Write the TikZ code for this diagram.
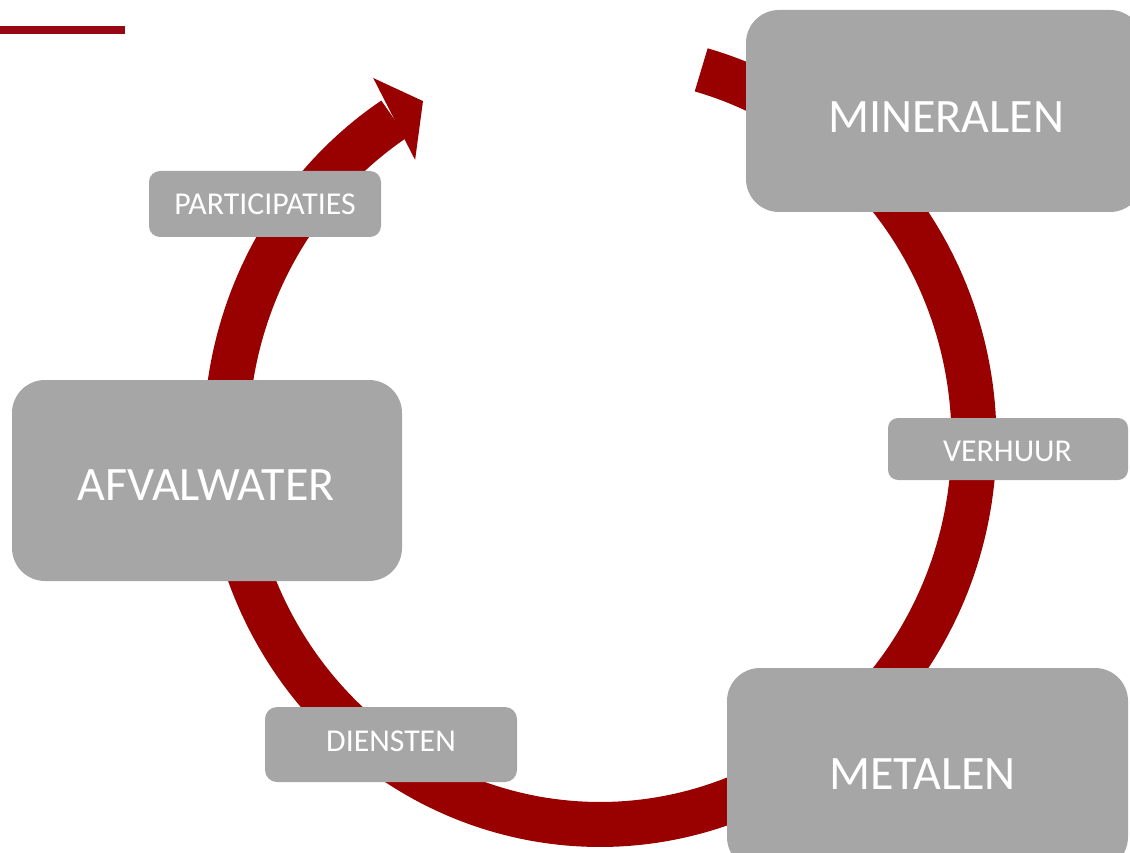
\documentclass[tikz,border=0pt]{standalone}
\usepackage{fontspec}
\setmainfont{Carlito}
\definecolor{cycred}{HTML}{990000}
\definecolor{barred}{RGB}{150,8,20}
\definecolor{boxgray}{HTML}{A6A6A6}
\tikzset{
  bigbox/.style={fill=boxgray, draw=none, rounded corners=33pt, inner sep=0pt, outer sep=0pt},
  smallbox/.style={fill=boxgray, draw=none, rounded corners=11pt, inner sep=0pt, outer sep=0pt},
  bigtxt/.style={text=white, inner sep=0pt, font=\fontsize{48}{52}\selectfont},
  smalltxt/.style={text=white, inner sep=0pt, font=\fontsize{31.8}{35}\selectfont},
  cycle band/.style={draw=cycred, line width=45pt, line cap=butt, line join=round},
}
\begin{document}
\begin{tikzpicture}[x=1pt,y=-1pt]
\useasboundingbox (0,0) rectangle (1130,853);
\clip (0,0) rectangle (1130,853);
% top-left bar
\coordinate (barL) at (0,30);
\coordinate (barR) at (125,30);
\draw[barred, line width=8pt] (barL) -- (barR);
% cycle band (elliptical arc)
\draw[cycle band] plot[domain=-74.3:236.6, samples=240, variable=\t] ({600+374*cos(\t)},{440+384.5*sin(\t)});
% arrowhead
\coordinate (headO) at (373.2,78);
\coordinate (headT) at (423,101.1);
\coordinate (headI) at (415.1,159.9);
\fill[cycred] (headO) -- (headT) -- (headI) -- cycle;
% big boxes
\node[bigbox, minimum width=397pt, minimum height=202pt] (minbox) at (944.5,111) {};
\node[bigbox, minimum width=390pt, minimum height=201pt] (afvbox) at (207,480.5) {};
\node[bigbox, minimum width=401pt, minimum height=202pt] (metbox) at (927.5,769) {};
% small boxes
\node[smallbox, minimum width=232pt, minimum height=66pt] (parbox) at (265,204) {};
\node[smallbox, minimum width=240pt, minimum height=62pt, rounded corners=10pt] (verbox) at (1008,449) {};
\node[smallbox, minimum width=252pt, minimum height=75pt, rounded corners=12pt] (dienbox) at (391,744.5) {};
% texts
\node[bigtxt] (mintxt) at (946,116.7) {MINERALEN};
\node[bigtxt] (afvtxt) at (206,485.5) {AFVALWATER};
\node[bigtxt] (mettxt) at (922.5,774.5) {METALEN};
\node[smalltxt] (partxt) at (265,204) {PARTICIPATIES};
\node[smalltxt] (vertxt) at (1007.5,451) {VERHUUR};
\node[smalltxt] (dientxt) at (391,741) {DIENSTEN};
\end{tikzpicture}
\end{document}
